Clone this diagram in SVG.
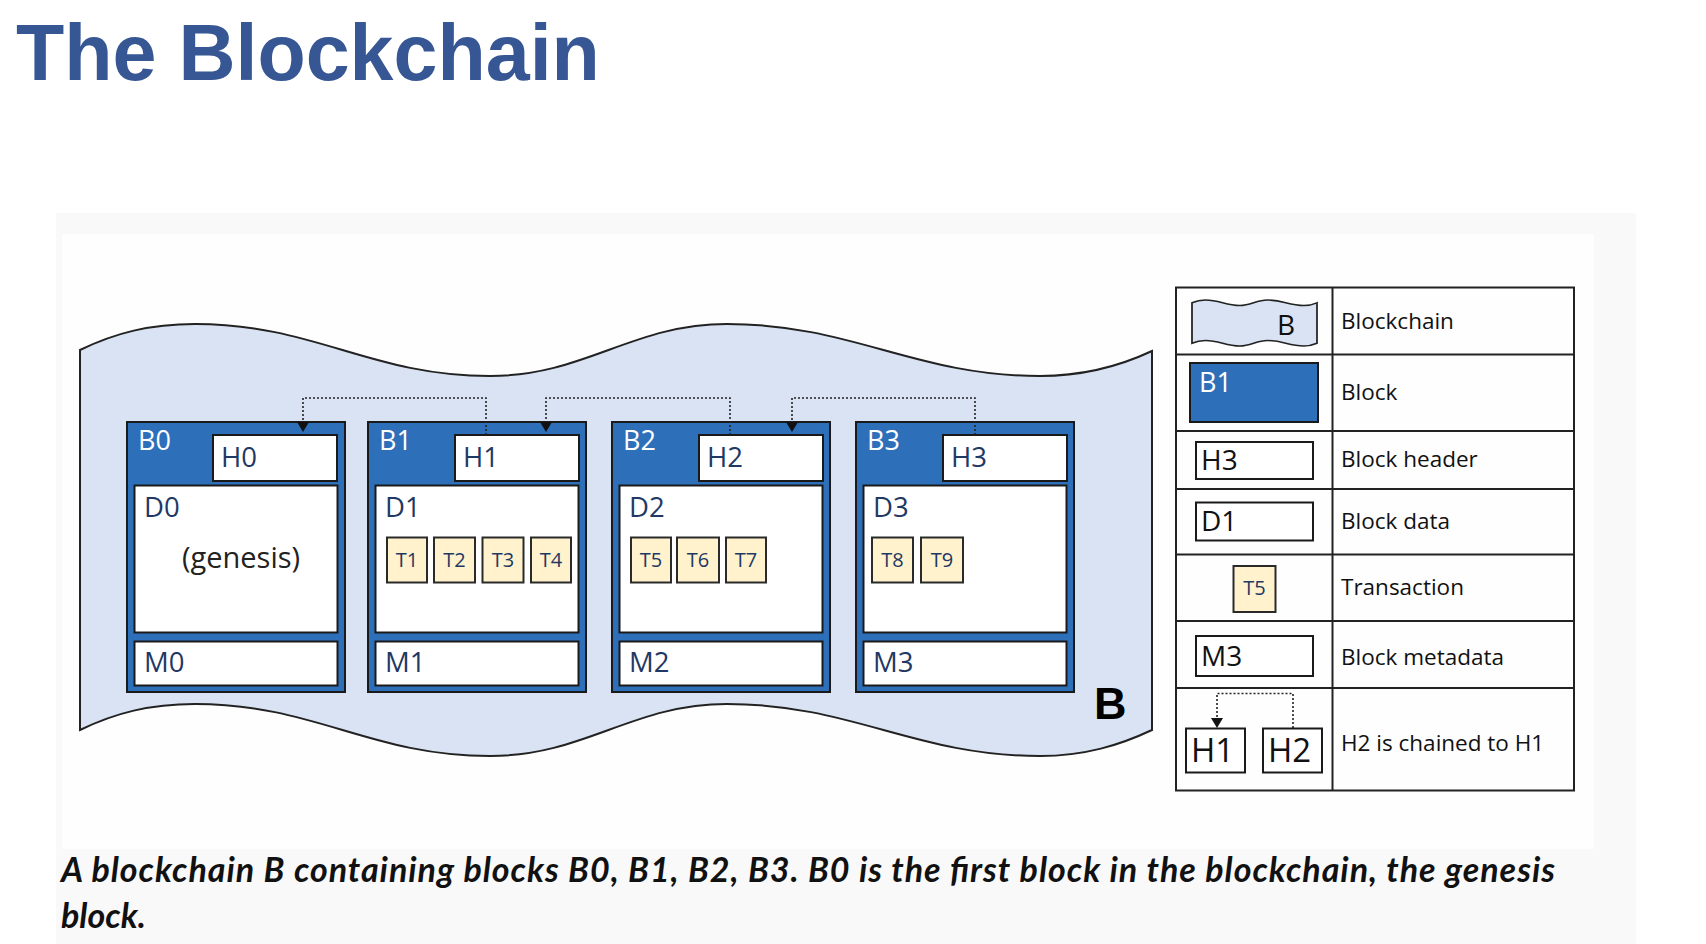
<svg xmlns="http://www.w3.org/2000/svg" width="1706" height="944" viewBox="0 0 1706 944">
<defs>
<style>
.blk{fill:#2e6fba;stroke:#1a1a1a;stroke-width:2}
.box{fill:#fff;stroke:#1a1a1a;stroke-width:2}
.tx{fill:#fff2cc;stroke:#2a2a2a;stroke-width:2}
.bl{font-family:"Open Sans","Noto Sans",sans-serif;font-size:27px;fill:#fff}
.bt{font-family:"Open Sans","Noto Sans",sans-serif;font-size:27.5px;fill:#1f3864}
.tt{font-family:"Open Sans","Noto Sans",sans-serif;font-size:20px;fill:#1f3864;text-anchor:middle}
.gen{font-family:"Open Sans","Noto Sans",sans-serif;font-size:29px;fill:#222;text-anchor:middle}
.lg{font-family:"Open Sans","Noto Sans",sans-serif;font-size:22.5px;fill:#111}
.lk{font-family:"Open Sans","Noto Sans",sans-serif;font-size:28px;fill:#111}
.dot{fill:none;stroke:#222;stroke-width:1.6;stroke-dasharray:2 2}
.grid{fill:none;stroke:#222;stroke-width:2}
.tape{fill:#dae3f3;stroke:#222;stroke-width:2}
</style>
<marker id="arr" markerWidth="10" markerHeight="12" refX="0" refY="6" orient="auto" markerUnits="userSpaceOnUse" viewBox="0 0 10 12"><path d="M0,0 L10,6 L0,12 Z" fill="#111"/></marker>
<path id="tapeShape" d="M80,350 C115,333 150,324 195,324 C315,324 370,376 490,376 C585,376 632,324 727,324 C852,324 915,376 1040,376 C1085,376 1120,366 1152,351 L1152,730 C1120,745 1085,756 1040,756 C915,756 852,704 727,704 C632,704 585,756 490,756 C370,756 315,704 195,704 C150,704 115,713 80,730 Z"/>
</defs>
<rect width="1706" height="944" fill="#fff"/>
<rect x="56" y="213" width="1580" height="731" fill="#f9f9f9"/>
<rect x="62" y="234" width="1532" height="615" fill="#fefefe"/>
<text x="16" y="80" font-family="Liberation Sans, Arial, sans-serif" font-weight="bold" font-size="79" fill="#365694">The Blockchain</text>

<g id="blockchain-B">
<use href="#tapeShape" class="tape"/>
<text x="1094" y="719" font-family="Liberation Sans, Arial, sans-serif" font-weight="bold" font-size="45" fill="#000">B</text>
</g>

<g id="block-B0">
<rect class="blk" x="127" y="422" width="218" height="270"/>
<text class="bl" x="138" y="450">B0</text>
<rect class="box" x="213" y="435" width="124" height="46"/>
<text class="bt" x="221" y="467">H0</text>
<rect class="box" x="134.5" y="485.5" width="203" height="147"/>
<text class="bt" x="144" y="517">D0</text>
<text class="gen" x="241" y="568">(genesis)</text>
<rect class="box" x="134.5" y="641.5" width="203" height="44"/>
<text class="bt" x="144" y="672">M0</text>
</g>

<g id="block-B1">
<rect class="blk" x="368" y="422" width="218" height="270"/>
<text class="bl" x="379" y="450">B1</text>
<rect class="box" x="455" y="435" width="124" height="46"/>
<text class="bt" x="463" y="467">H1</text>
<rect class="box" x="375.5" y="485.5" width="203" height="147"/>
<text class="bt" x="385" y="517">D1</text>
<rect class="tx" x="387" y="537.5" width="40" height="45"/><text class="tt" x="407" y="567">T1</text>
<rect class="tx" x="434" y="537.5" width="41" height="45"/><text class="tt" x="454.5" y="567">T2</text>
<rect class="tx" x="482.5" y="537.5" width="41" height="45"/><text class="tt" x="503" y="567">T3</text>
<rect class="tx" x="531" y="537.5" width="40" height="45"/><text class="tt" x="551" y="567">T4</text>
<rect class="box" x="375.5" y="641.5" width="203" height="44"/>
<text class="bt" x="385" y="672">M1</text>
</g>

<g id="block-B2">
<rect class="blk" x="612" y="422" width="218" height="270"/>
<text class="bl" x="623" y="450">B2</text>
<rect class="box" x="699" y="435" width="124" height="46"/>
<text class="bt" x="707" y="467">H2</text>
<rect class="box" x="619.5" y="485.5" width="203" height="147"/>
<text class="bt" x="629" y="517">D2</text>
<rect class="tx" x="631" y="537.5" width="40" height="45"/><text class="tt" x="651" y="567">T5</text>
<rect class="tx" x="677" y="537.5" width="42" height="45"/><text class="tt" x="698" y="567">T6</text>
<rect class="tx" x="726" y="537.5" width="40" height="45"/><text class="tt" x="746" y="567">T7</text>
<rect class="box" x="619.5" y="641.5" width="203" height="44"/>
<text class="bt" x="629" y="672">M2</text>
</g>

<g id="block-B3">
<rect class="blk" x="856" y="422" width="218" height="270"/>
<text class="bl" x="867" y="450">B3</text>
<rect class="box" x="943" y="435" width="124" height="46"/>
<text class="bt" x="951" y="467">H3</text>
<rect class="box" x="863.5" y="485.5" width="203" height="147"/>
<text class="bt" x="873" y="517">D3</text>
<rect class="tx" x="872" y="537.5" width="41" height="45"/><text class="tt" x="892.5" y="567">T8</text>
<rect class="tx" x="921" y="537.5" width="42" height="45"/><text class="tt" x="942" y="567">T9</text>
<rect class="box" x="863.5" y="641.5" width="203" height="44"/>
<text class="bt" x="873" y="672">M3</text>
</g>

<g id="connectors">
<polyline class="dot" points="486,435 486,398 303,398 303,422" marker-end="url(#arr)"/>
<polyline class="dot" points="730,435 730,398 546,398 546,422" marker-end="url(#arr)"/>
<polyline class="dot" points="975,435 975,398 792,398 792,422" marker-end="url(#arr)"/>
<polyline class="dot" points="1293,728 1293,693.5 1217,693.5 1217,718" marker-end="url(#arr)"/>
</g>

<g id="legend">
<rect class="grid" x="1176" y="287.5" width="398" height="503"/>
<line class="grid" x1="1332.5" y1="287.5" x2="1332.5" y2="790.5"/>
<line class="grid" x1="1176" y1="354.5" x2="1574" y2="354.5"/>
<line class="grid" x1="1176" y1="431" x2="1574" y2="431"/>
<line class="grid" x1="1176" y1="489" x2="1574" y2="489"/>
<line class="grid" x1="1176" y1="554.5" x2="1574" y2="554.5"/>
<line class="grid" x1="1176" y1="621" x2="1574" y2="621"/>
<line class="grid" x1="1176" y1="688" x2="1574" y2="688"/>
<g id="legend-blockchain">
<g transform="translate(1192,300) scale(0.1166,0.1065) translate(-80,-324)">
<use href="#tapeShape" style="fill:#dae3f3;stroke:#222;stroke-width:15"/>
</g>
<text class="lk" x="1277" y="335">B</text>
<text class="lg" x="1341" y="329">Blockchain</text>
</g>
<g id="legend-block">
<rect class="blk" x="1190" y="363" width="128" height="59"/>
<text class="bl" x="1199" y="392">B1</text>
<text class="lg" x="1341" y="400">Block</text>
</g>
<g id="legend-header">
<rect class="box" x="1196" y="442" width="117" height="37"/>
<text class="lk" x="1201" y="470">H3</text>
<text class="lg" x="1341" y="467">Block header</text>
</g>
<g id="legend-data">
<rect class="box" x="1196" y="502.5" width="117" height="38"/>
<text class="lk" x="1201" y="531">D1</text>
<text class="lg" x="1341" y="529">Block data</text>
</g>
<g id="legend-transaction">
<rect class="tx" x="1233.5" y="566" width="42" height="46"/>
<text class="tt" x="1254.5" y="595">T5</text>
<text class="lg" x="1341" y="595">Transaction</text>
</g>
<g id="legend-metadata">
<rect class="box" x="1196" y="636" width="117" height="40"/>
<text class="lk" x="1201" y="666">M3</text>
<text class="lg" x="1341" y="665">Block metadata</text>
</g>
<g id="legend-chain">
<rect class="box" x="1186" y="728.5" width="59" height="44"/>
<text class="lk" x="1191" y="762" style="font-size:33px">H1</text>
<rect class="box" x="1263" y="728.5" width="59" height="44"/>
<text class="lk" x="1268" y="762" style="font-size:33px">H2</text>
<text class="lg" x="1341" y="751">H2 is chained to H1</text>
</g>
</g>

<text font-family="Lato, 'Open Sans', sans-serif" font-weight="bold" font-style="italic" font-size="34" fill="#111"><tspan x="61" y="882" textLength="1494" lengthAdjust="spacing">A blockchain B containing blocks B0, B1, B2, B3. B0 is the first block in the blockchain, the genesis</tspan><tspan x="61" y="928">block.</tspan></text>
</svg>
